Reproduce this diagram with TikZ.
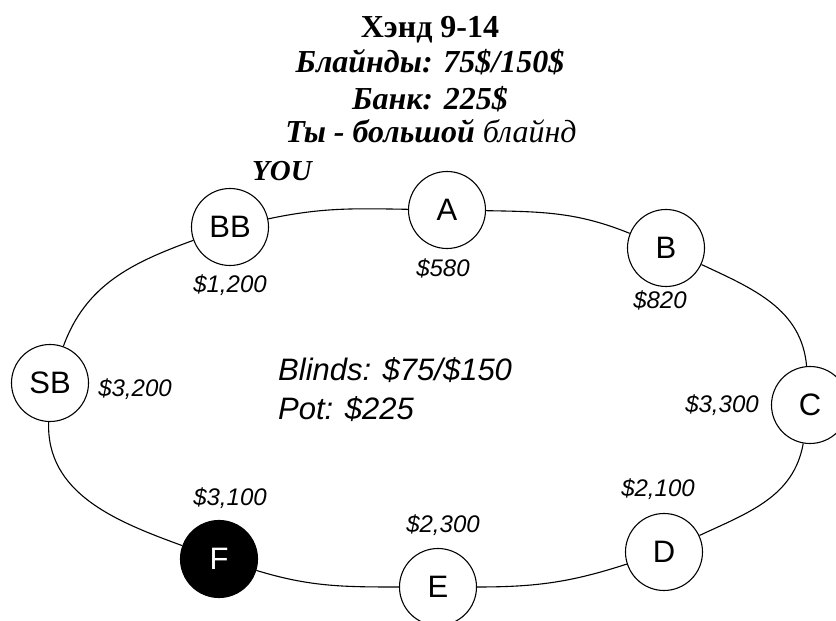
\documentclass[tikz,border=0pt]{standalone}
\usepackage{fontspec}
\setmainfont{Liberation Serif}
\setsansfont{Liberation Sans}
\usetikzlibrary{positioning}

\begin{document}
\begin{tikzpicture}[x=1pt, y=1pt,
  seat/.style={circle, draw, line width=1.1pt, minimum size=77pt, inner sep=0pt,
    fill=white, font=\sffamily\fontsize{31}{31}\selectfont},
  stack/.style={anchor=base, inner sep=0pt, font=\sffamily\itshape\fontsize{24}{24}\selectfont},
  heading/.style={anchor=base, inner sep=0pt, font=\fontsize{32}{32}\selectfont},
  ring/.style={line width=1.1pt}]
\useasboundingbox (0,0) rectangle (836,621);

% title lines
\node[heading] (title) at (430,583) {\bfseries Хэнд 9-14};
\node[heading] (blinds) at (430,548) {\bfseries\itshape Блайнды: 75\$/150\$};
\node[heading] (bank) at (430,511) {\bfseries\itshape Банк: 225\$};
\node[heading] (role) at (431,478) {\textbf{\textit{Ты - большой}} \textit{блайнд}};

% seats round the table
\node[seat] (BB) at (230,394) {BB};
\node[seat] (A) at (447,411) {A};
\node[seat] (B) at (666,373) {B};
\node[seat] (C) at (810,216) {C};
\node[seat] (D) at (664,69) {D};
\node[seat] (E) at (438,34) {E};
\node[seat, fill=black, text=white] (F) at (219,62) {F};
\node[seat] (SB) at (50,238) {SB};

% table edge
\draw[ring] (BB) to[out=12, in=179] (A);
\draw[ring] (A) to[out=-1, in=158] (B);
\draw[ring] (B) to[out=-25, in=95] (C);
\draw[ring] (C) to[out=-100, in=25] (D);
\draw[ring] (D) to[out=198, in=0] (E);
\draw[ring] (E) to[out=180, in=-17] (F);
\draw[ring] (F) to[out=160, in=-92] (SB);
\draw[ring] (SB) to[out=70, in=200] (BB);

% stacks
\node[heading, font=\fontsize{29}{29}\selectfont\bfseries\itshape] (you) at (282,440) {YOU};
\node[stack] (sBB) at (230,328) {\$1,200};
\node[stack] (sA) at (443,344) {\$580};
\node[stack] (sB) at (660,312) {\$820};
\node[stack] (sC) at (722,208) {\$3,300};
\node[stack] (sD) at (658,124) {\$2,100};
\node[stack] (sE) at (443,88) {\$2,300};
\node[stack] (sF) at (230,115) {\$3,100};
\node[stack] (sSB) at (135,224) {\$3,200};

% pot info
\node[anchor=base west, inner sep=0pt, font=\sffamily\itshape\fontsize{31}{31}\selectfont] (info) at (278,240) {Blinds: \$75/\$150};
\node[anchor=base west, inner sep=0pt, font=\sffamily\itshape\fontsize{31}{31}\selectfont] (pot) at (278,201) {Pot: \$225};
\end{tikzpicture}
\end{document}
